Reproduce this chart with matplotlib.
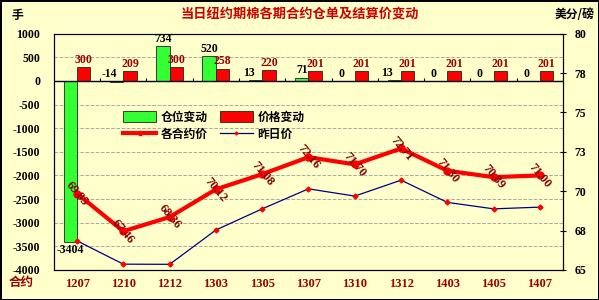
import matplotlib
matplotlib.use('Agg')
import matplotlib.pyplot as plt
import numpy as np

plt.rcParams['axes.unicode_minus'] = False

contracts = ['1207', '1210', '1212', '1303', '1305', '1307', '1310', '1312', '1403', '1405', '1407']
oi_change = [-3404, -14, 734, 520, 13, 71, 0, 13, 0, 0, 0]
price_change = [300, 209, 300, 258, 220, 201, 201, 201, 201, 201, 201]
settle = [69.85, 67.46, 68.36, 70.12, 71.08, 72.16, 71.70, 72.71, 71.30, 70.89, 71.00]
prev_settle = [66.85, 65.37, 65.36, 67.54, 68.88, 70.15, 69.69, 70.70, 69.29, 68.88, 68.99]

bg = '#FFFFCC'
cjk = ['Noto Sans CJK SC', 'DejaVu Sans']
num = 'Liberation Serif'
dark_red = '#990000'

fig = plt.figure(figsize=(5.99, 3.0), dpi=100, facecolor=bg, edgecolor='black', linewidth=2)
ax = fig.add_axes([0.090, 0.100, 0.850, 0.788])
ax.set_facecolor(bg)

x = np.arange(len(contracts))
w = 0.29
ax.bar(x - w / 2, oi_change, w, color='#33FF33', edgecolor='#222222', linewidth=0.6,
       label='仓位变动', zorder=3)
ax.bar(x + w / 2, price_change, w, color='#FF0000', edgecolor='#222222', linewidth=0.6,
       label='价格变动', zorder=3)

ax.set_xlim(-0.5, len(contracts) - 0.5)
ax.set_ylim(-4000, 1000)
yt = np.arange(-4000, 1001, 500)
ax.set_yticks(yt)
ax.set_yticklabels([str(v) for v in yt], fontfamily=num, fontweight='bold', fontsize=8.5)
ax.grid(axis='y', ls='--', color='#A8A8A8', lw=0.7, zorder=0)
ax.axhline(0, color='black', lw=1, zorder=4)
ax.vlines(x[:-1] + 0.5, 0, 70, color='black', lw=0.8, zorder=4)
ax.tick_params(axis='y', length=0, pad=10)
ax.set_xticks(x)
ax.set_xticklabels(contracts, fontfamily=num, fontweight='bold', fontsize=9, color=dark_red)
ax.tick_params(axis='x', length=0, pad=6)
for s in ax.spines.values():
    s.set_linewidth(0.8)

for xi, v in zip(x, oi_change):
    if v < -1000:
        ax.text(xi - w / 2, v - 40, str(v), ha='center', va='top', fontfamily=num,
                fontweight='bold', fontsize=8.5, zorder=5)
    else:
        ax.text(xi - w / 2 - (0.15 if v <= 20 else 0), max(v, 0) + 25, str(v), ha='center',
                va='bottom', fontfamily=num, fontweight='bold', fontsize=8.5, zorder=5)
for xi, v in zip(x, price_change):
    ax.text(xi + w / 2, v + 25, str(v), ha='center', va='bottom', fontfamily=num,
            fontweight='bold', fontsize=8.5, color=dark_red, zorder=5)

ax2 = ax.twinx()
ax2.set_ylim(65, 80)
rt = [65, 67.5, 70, 72.5, 75, 77.5, 80]
ax2.set_yticks(rt)
ax2.set_yticklabels(['65', '68', '70', '73', '75', '78', '80'], fontfamily=num,
                    fontweight='bold', fontsize=8.5)
ax2.tick_params(axis='y', direction='inout', length=5, width=0.8, pad=6)
ax2.plot(x, settle, color='#FF0000', lw=3, marker='o', ms=5, label='各合约价', zorder=4)
ax2.plot(x, prev_settle, color='#000080', lw=0.9, marker='D', ms=2.5, mfc='#FF0000',
         mec='#FF0000', label='昨日价', zorder=3)
for xi, v in zip(x, settle):
    ax2.text(xi, v, f'{v:.2f}', rotation=-50, ha='center', va='center', fontfamily=num,
             fontweight='bold', fontsize=9, color='#800000', zorder=6)

h1, l1 = ax.get_legend_handles_labels()
h2, l2 = ax2.get_legend_handles_labels()
handles = [h1[0], h2[0], h1[1], h2[1]]
labels = [l1[0], l2[0], l1[1], l2[1]]
ax2.legend(handles, labels, loc='upper left', bbox_to_anchor=(0.115, 0.72), ncol=2,
           frameon=False, handlelength=2.8, handleheight=1.0, columnspacing=1.0,
           handletextpad=0.4, labelspacing=0.35, markerscale=0.6,
           prop={'family': cjk, 'weight': 'bold', 'size': 8.5})

fig.text(0.50, 0.955, '当日纽约期棉各期合约仓单及结算价变动', ha='center', va='center',
         fontfamily=cjk, fontweight='bold', fontsize=9.5, color='#CC0000')
fig.text(0.02, 0.950, '手', ha='left', va='center', fontfamily=cjk, fontweight='bold', fontsize=8.5)
fig.text(0.96, 0.950, '美分/磅', ha='center', va='center', fontfamily=cjk, fontweight='bold',
         fontsize=8.5)
fig.text(0.035, 0.058, '合约', ha='center', va='center', fontfamily=cjk, fontweight='bold',
         fontsize=9, color=dark_red)

fig.savefig('out.png', dpi=100, facecolor=bg, edgecolor='black')
